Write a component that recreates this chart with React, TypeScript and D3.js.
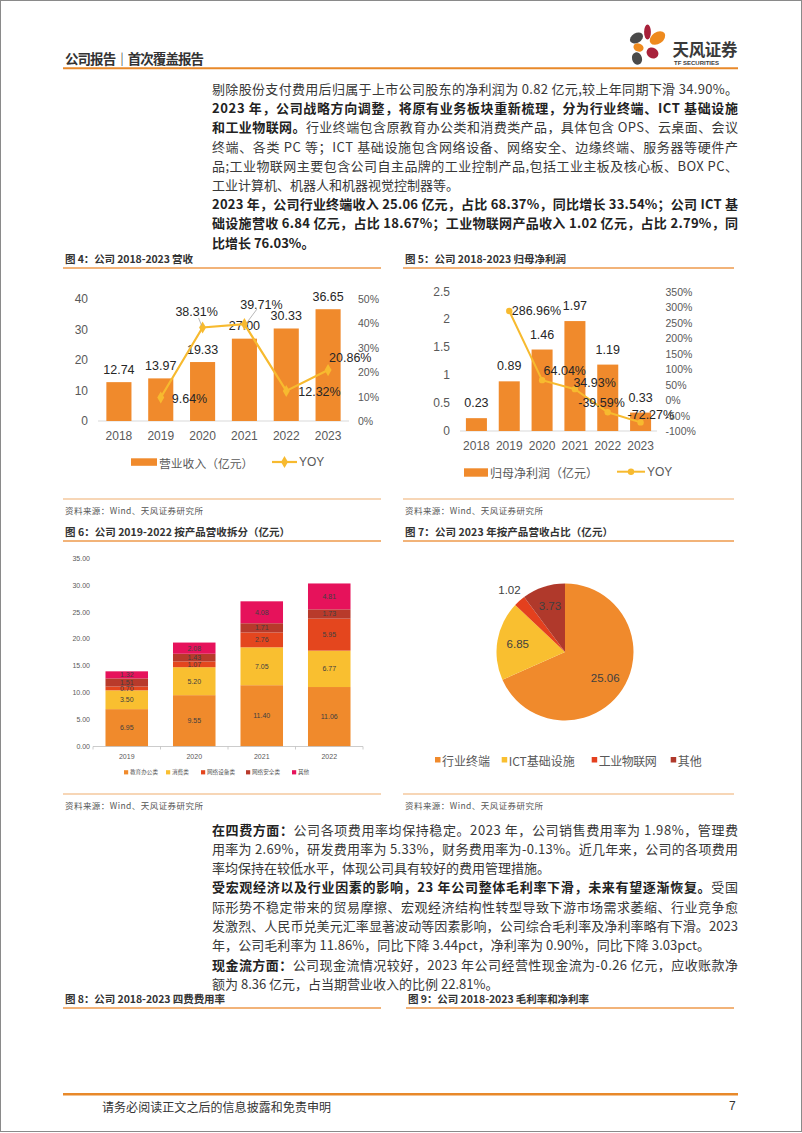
import React, { useEffect } from 'react';
import * as d3 from 'd3';

// ---- chart data ----
const revYears = ['2018', '2019', '2020', '2021', '2022', '2023'];
const revenue = [12.74, 13.97, 19.33, 27.0, 30.33, 36.65];
const revYoy: (number | null)[] = [null, 9.64, 38.31, 39.71, 12.32, 20.86];
const revLeftTicks = [0, 10, 20, 30, 40];
const revRightTicks = [0, 10, 20, 30, 40, 50];

const profitYears = ['2018', '2019', '2020', '2021', '2022', '2023'];
const profit = [0.23, 0.89, 1.46, 1.97, 1.19, 0.33];
const profitYoy: (number | null)[] = [null, 286.96, 64.04, 34.93, -39.59, -72.27];
const profitLeftTicks = [0, 0.5, 1, 1.5, 2, 2.5];
const profitRightTicks = [-100, -50, 0, 50, 100, 150, 200, 250, 300, 350];

const productYears = ['2019', '2020', '2021', '2022'];
const productNames = ['教育办公类', '消费类', '网络设备类', '网络安全类', '其他'];
const eduOffice = [6.95, 9.55, 11.4, 11.06];
const consumer = [3.5, 5.2, 7.05, 6.77];
const netDevice = [0.7, 1.07, 2.76, 5.95];
const netSecurity = [1.51, 1.43, 1.71, 1.73];
const otherProducts = [1.32, 2.08, 4.08, 4.81];
const productTicks = [0, 5, 10, 15, 20, 25, 30, 35];

const pieNames = ['行业终端', 'ICT基础设施', '工业物联网', '其他'];
const pieValues = [25.06, 6.85, 1.02, 3.73];

// ---- styles ----
const ORANGE = '#F08A2C';
const GOLD = '#F7BA2F';
const productColors = ['#F08A2C', '#F9BF30', '#E4461E', '#B83A2B', '#E6125B'];
const pieColors = ['#F08A2C', '#F9BF30', '#E4401E', '#B0392B'];
const RULE = '#EE9A4D';
const CJK = '"Noto Sans CJK SC", "Noto Sans", sans-serif';
const NUM = '"Liberation Sans", Arial, "Noto Sans CJK SC", sans-serif';

type Part = { t: string; b?: boolean };

// body text lines
const topLines: { parts: Part[]; full?: boolean }[] = [
  { full: true, parts: [{ t: '剔除股份支付费用后归属于上市公司股东的净利润为 0.82 亿元,较上年同期下滑 34.90%。' }] },
  { full: true, parts: [{ t: '2023 年，公司战略方向调整，将原有业务板块重新梳理，分为行业终端、ICT 基础设施', b: true }] },
  { full: true, parts: [{ t: '和工业物联网。', b: true }, { t: '行业终端包含原教育办公类和消费类产品，具体包含 OPS、云桌面、会议' }] },
  { full: true, parts: [{ t: '终端、各类 PC 等；ICT 基础设施包含网络设备、网络安全、边缘终端、服务器等硬件产' }] },
  { full: true, parts: [{ t: '品;工业物联网主要包含公司自主品牌的工业控制产品,包括工业主板及核心板、BOX PC、' }] },
  { parts: [{ t: '工业计算机、机器人和机器视觉控制器等。' }] },
  { full: true, parts: [{ t: '2023 年，公司行业终端收入 25.06 亿元，占比 68.37%，同比增长 33.54%；公司 ICT 基', b: true }] },
  { full: true, parts: [{ t: '础设施营收 6.84 亿元，占比 18.67%；工业物联网产品收入 1.02 亿元，占比 2.79%，同', b: true }] },
  { parts: [{ t: '比增长 76.03%。', b: true }] },
];

const lowerLines: { parts: Part[]; full?: boolean; len?: number }[] = [
  { full: true, parts: [{ t: '在四费方面：', b: true }, { t: '公司各项费用率均保持稳定。2023 年，公司销售费用率为 1.98%，管理费' }] },
  { full: true, parts: [{ t: '用率为 2.69%，研发费用率为 5.33%，财务费用率为-0.13%。近几年来，公司的各项费用' }] },
  { parts: [{ t: '率均保持在较低水平，体现公司具有较好的费用管理措施。' }] },
  { full: true, parts: [{ t: '受宏观经济以及行业因素的影响，23 年公司整体毛利率下滑，未来有望逐渐恢复。', b: true }, { t: '受国' }] },
  { full: true, parts: [{ t: '际形势不稳定带来的贸易摩擦、宏观经济结构性转型导致下游市场需求萎缩、行业竞争愈' }] },
  { full: true, parts: [{ t: '发激烈、人民币兑美元汇率显著波动等因素影响，公司综合毛利率及净利率略有下滑。2023' }] },
  { len: 498, parts: [{ t: '年，公司毛利率为 11.86%，同比下降 3.44pct，净利率为 0.90%，同比下降 3.03pct。' }] },
  { full: true, parts: [{ t: '现金流方面：', b: true }, { t: '公司现金流情况较好，2023 年公司经营性现金流为-0.26 亿元，应收账款净' }] },
  { parts: [{ t: '额为 8.36 亿元，占当期营业收入的比例 22.81%。' }] },
];

function BodyLine({ y, parts, len }: { y: number; parts: Part[]; len?: number }) {
  return (
    <text
      x={212}
      y={y}
      dominantBaseline="central"
      fontSize={13}
      fontFamily={CJK}
      fill="#333"
      textLength={len}
      lengthAdjust={len ? 'spacing' : undefined}
    >
      {parts.map((p, i) => (
        <tspan key={i} fontWeight={p.b ? 700 : 400} fill={p.b ? '#222' : '#383838'}>{p.t}</tspan>
      ))}
    </text>
  );
}

function FigTitle({ x, y, text, len, x2 }: { x: number; y: number; text: string; len: number; x2: number }) {
  return (
    <g>
      <text x={x} y={y} dominantBaseline="central" fontSize={10.5} fontWeight={700} fontFamily={CJK} fill="#333" textLength={len} lengthAdjust="spacing">
        {text}
      </text>
      <line x1={x - 2} x2={x2} y1={y + 10} y2={y + 10} stroke={RULE} strokeWidth={1.3} />
    </g>
  );
}

function Source({ x, y, x2 }: { x: number; y: number; x2: number }) {
  return (
    <g>
      <line x1={x - 2} x2={x2} y1={y - 11} y2={y - 11} stroke={RULE} strokeWidth={1.2} opacity={0.8} />
      <text x={x} y={y} dominantBaseline="central" fontSize={8.5} fontFamily={CJK} fill="#555" textLength={138} lengthAdjust="spacing">
        资料来源：Wind、天风证券研究所
      </text>
    </g>
  );
}

// 图4
function RevenueChart() {
  const x = d3.scaleBand<string>().domain(revYears).range([98, 349]);
  const y = d3.scaleLinear().domain([0, 40]).range([421, 299]);
  const yR = d3.scaleLinear().domain([0, 50]).range([421, 299]);
  const cx = (d: string) => (x(d) ?? 0) + x.bandwidth() / 2;
  const bw = x.bandwidth() * 0.6;
  const pts = revYears
    .map((d, i) => ({ d, v: revYoy[i] }))
    .filter((p): p is { d: string; v: number } => p.v != null);
  const line = d3.line<{ d: string; v: number }>().x(p => cx(p.d)).y(p => yR(p.v));
  const diamond = d3.symbol().type(d3.symbolDiamond).size(42)();
  const offs: Record<string, [number, number, string]> = {
    '2019': [11, 1.5, 'start'],
    '2020': [-6, -15.5, 'middle'],
    '2021': [17, -19, 'middle'],
    '2022': [12, 1, 'start'],
    '2023': [1, -12, 'start'],
  };
  return (
    <g fontFamily={NUM}>
      {revLeftTicks.map(t => (
        <text key={t} x={88} y={y(t)} textAnchor="end" dominantBaseline="central" fontSize={12} fill="#595959">{t}</text>
      ))}
      {revRightTicks.map(t => (
        <text key={t} x={358} y={yR(t)} dominantBaseline="central" fontSize={10.5} fill="#595959">{t}%</text>
      ))}
      <line x1={98} x2={349} y1={y(0)} y2={y(0)} stroke="#D9D9D9" />
      {revYears.map((d, i) => (
        <g key={d}>
          <rect x={cx(d) - bw / 2} y={y(revenue[i])} width={bw} height={y(0) - y(revenue[i])} fill={ORANGE} />
          <text x={cx(d)} y={436} textAnchor="middle" dominantBaseline="central" fontSize={12} fill="#595959">{d}</text>
        </g>
      ))}
      {revYears.map((d, i) => (
        <text key={d} x={cx(d)} y={y(revenue[i]) - 12.5} textAnchor="middle" dominantBaseline="central" fontSize={12.5} fill="#262626">
          {revenue[i].toFixed(2)}
        </text>
      ))}
      <path d={line(pts) ?? ''} fill="none" stroke={GOLD} strokeWidth={2.2} />
      {pts.map(p => (
        <path key={p.d} d={diamond} transform={`translate(${cx(p.d)},${yR(p.v)})`} fill={GOLD} />
      ))}
      {/* leader lines */}
      <line x1={cx('2020') - 4} y1={yR(38.31) - 9.5} x2={cx('2020') - 1} y2={yR(38.31) - 2} stroke="#A6A6A6" strokeWidth={0.8} />
      <line x1={cx('2021') + 12.5} y1={yR(39.71) - 15} x2={cx('2021') + 2.5} y2={yR(39.71) - 1.5} stroke="#A6A6A6" strokeWidth={0.8} />
      {pts.map(p => {
        const [dx, dy, a] = offs[p.d];
        return (
          <text key={p.d} x={cx(p.d) + dx} y={yR(p.v) + dy} textAnchor={a} dominantBaseline="central" fontSize={12.5} fill="#262626">
            {p.v.toFixed(2)}%
          </text>
        );
      })}
      {/* legend */}
      <rect x={131} y={458.3} width={26} height={7.5} fill={ORANGE} />
      <text x={159} y={462} dominantBaseline="central" fontSize={11.8} fontFamily={CJK} fill="#595959">营业收入（亿元）</text>
      <line x1={272} x2={297} y1={462} y2={462} stroke={GOLD} strokeWidth={2.2} />
      <path d={diamond} transform="translate(284.5,462)" fill={GOLD} />
      <text x={299} y={462} dominantBaseline="central" fontSize={12} fill="#595959">YOY</text>
    </g>
  );
}

// 图5
function ProfitChart() {
  const x = d3.scaleBand<string>().domain(profitYears).range([460, 657]);
  const y = d3.scaleLinear().domain([0, 2.5]).range([431, 291.5]);
  const yR = d3.scaleLinear().domain([-100, 350]).range([431, 291.5]);
  const cx = (d: string) => (x(d) ?? 0) + x.bandwidth() / 2;
  const bw = x.bandwidth() * 0.64;
  const pts = profitYears
    .map((d, i) => ({ d, v: profitYoy[i] }))
    .filter((p): p is { d: string; v: number } => p.v != null);
  const line = d3.line<{ d: string; v: number }>().x(p => cx(p.d)).y(p => yR(p.v));
  const offs: Record<string, [number, number]> = {
    '2019': [2.5, 0],
    '2020': [1.5, -9],
    '2021': [-1.5, -6],
    '2022': [-29.5, -9],
    '2023': [-13, -7.5],
  };
  return (
    <g fontFamily={NUM}>
      {profitLeftTicks.map(t => (
        <text key={t} x={450} y={y(t)} textAnchor="end" dominantBaseline="central" fontSize={12} fill="#595959">{t}</text>
      ))}
      {profitRightTicks.map(t => (
        <text key={t} x={665.5} y={yR(t)} dominantBaseline="central" fontSize={10.5} fill="#595959">{t}%</text>
      ))}
      <line x1={460} x2={657} y1={y(0)} y2={y(0)} stroke="#D9D9D9" />
      {profitYears.map((d, i) => (
        <g key={d}>
          <rect x={cx(d) - bw / 2} y={y(profit[i])} width={bw} height={y(0) - y(profit[i])} fill={ORANGE} />
          <text x={cx(d)} y={446} textAnchor="middle" dominantBaseline="central" fontSize={12} fill="#595959">{d}</text>
        </g>
      ))}
      {profitYears.map((d, i) => (
        <text key={d} x={cx(d)} y={y(profit[i]) - 15} textAnchor="middle" dominantBaseline="central" fontSize={12.5} fill="#262626">
          {profit[i].toFixed(2)}
        </text>
      ))}
      <path d={line(pts) ?? ''} fill="none" stroke={GOLD} strokeWidth={2} />
      {pts.map(p => (
        <circle key={p.d} cx={cx(p.d)} cy={yR(p.v)} r={3.2} fill={GOLD} />
      ))}
      {pts.map(p => {
        const [dx, dy] = offs[p.d];
        return (
          <text key={p.d} x={cx(p.d) + dx} y={yR(p.v) + dy} dominantBaseline="central" fontSize={12.5} fill="#262626">
            {p.v.toFixed(2)}%
          </text>
        );
      })}
      <rect x={464} y={468.3} width={24} height={8.4} fill={ORANGE} />
      <text x={490} y={472} dominantBaseline="central" fontSize={12} fontFamily={CJK} fill="#595959">归母净利润（亿元）</text>
      <line x1={617} x2={645} y1={471.7} y2={471.7} stroke={GOLD} strokeWidth={2} />
      <circle cx={631} cy={471.7} r={3.2} fill={GOLD} />
      <text x={647} y={472} dominantBaseline="central" fontSize={12} fill="#595959">YOY</text>
    </g>
  );
}

// 图6
function ProductChart() {
  const rows = productYears.map((year, i) => ({
    year,
    s0: eduOffice[i],
    s1: consumer[i],
    s2: netDevice[i],
    s3: netSecurity[i],
    s4: otherProducts[i],
  }));
  const keys = ['s0', 's1', 's2', 's3', 's4'];
  const series = d3.stack<any>().keys(keys)(rows);
  const x = d3.scaleBand<string>().domain(productYears).range([93, 363]);
  const y = d3.scaleLinear().domain([0, 35]).range([746.5, 558.3]);
  const cx = (d: string) => (x(d) ?? 0) + x.bandwidth() / 2;
  const bw = x.bandwidth() * 0.63;
  const legendX = [124, 166, 201, 246, 292];
  const boundaries = [93, ...productYears.map(d => (x(d) ?? 0) + x.bandwidth())];
  return (
    <g fontFamily={NUM}>
      {productTicks.map(t => (
        <text key={t} x={90} y={y(t)} textAnchor="end" dominantBaseline="central" fontSize={7} fill="#595959">{t.toFixed(2)}</text>
      ))}
      {series.map((s, k) =>
        s.map((seg, i) => (
          <rect
            key={`${k}-${i}`}
            x={cx(productYears[i]) - bw / 2}
            y={y(seg[1])}
            width={bw}
            height={y(seg[0]) - y(seg[1])}
            fill={productColors[k]}
          />
        ))
      )}
      {series.map((s, k) =>
        s.map((seg, i) => (
          <text
            key={`${k}-${i}`}
            x={cx(productYears[i])}
            y={(y(seg[0]) + y(seg[1])) / 2}
            textAnchor="middle"
            dominantBaseline="central"
            fontSize={7}
            fill="#404040"
          >
            {(seg[1] - seg[0]).toFixed(2)}
          </text>
        ))
      )}
      <line x1={93} x2={363} y1={y(0)} y2={y(0)} stroke="#BFBFBF" strokeWidth={0.8} />
      {boundaries.map(b => (
        <line key={b} x1={b} x2={b} y1={y(0)} y2={y(0) + 3} stroke="#BFBFBF" strokeWidth={0.8} />
      ))}
      {productYears.map(d => (
        <text key={d} x={cx(d)} y={756.5} textAnchor="middle" dominantBaseline="central" fontSize={7} fill="#595959">{d}</text>
      ))}
      {productNames.map((n, k) => (
        <g key={n}>
          <rect x={legendX[k]} y={770.2} width={4.2} height={4.2} fill={productColors[k]} />
          <text x={legendX[k] + 6} y={772.4} dominantBaseline="central" fontSize={5.6} fontFamily={CJK} fill="#595959">{n}</text>
        </g>
      ))}
    </g>
  );
}

// 图7
function ProductPie() {
  const cx = 565;
  const cy = 652;
  const r = 68.5;
  const arcs = d3.pie<number>().sort(null).value(v => v)(pieValues);
  const arc = d3.arc<d3.PieArcDatum<number>>().innerRadius(0).outerRadius(r);
  const labelArc = d3.arc<d3.PieArcDatum<number>>().innerRadius(r * 0.7).outerRadius(r * 0.7);
  const outerArc = d3.arc<d3.PieArcDatum<number>>().innerRadius(r * 1.22).outerRadius(r * 1.22);
  const legendX = [435, 501.7, 591.7, 670.7];
  const legendLen = [48, 66, 58, 24];
  return (
    <g fontFamily={NUM}>
      <g transform={`translate(${cx},${cy})`}>
        {arcs.map((a, i) => (
          <path key={i} d={arc(a) ?? ''} fill={pieColors[i]} />
        ))}
        {arcs.map((a, i) => {
          const small = a.endAngle - a.startAngle < 0.3 && a.value < 2;
          const [lx, ly] = small ? outerArc.centroid(a) : labelArc.centroid(a);
          return (
            <text key={i} x={lx} y={ly} textAnchor="middle" dominantBaseline="central" fontSize={11.5} fill="#404040">
              {a.value.toFixed(2)}
            </text>
          );
        })}
      </g>
      {pieNames.map((n, i) => (
        <g key={n}>
          <rect x={legendX[i]} y={757} width={5.5} height={5.5} fill={pieColors[i]} />
          <text x={legendX[i] + 7} y={760} dominantBaseline="central" fontSize={12} fontFamily={CJK} fill="#595959" textLength={legendLen[i]} lengthAdjust="spacing">{n}</text>
        </g>
      ))}
    </g>
  );
}

function Logo() {
  return (
    <g>
      <ellipse cx={636.5} cy={38} rx={7} ry={4.8} transform="rotate(-30 636.5 38)" fill="#4A4A4A" />
      <ellipse cx={647.5} cy={32} rx={3.4} ry={7.5} fill="#A8213A" />
      <ellipse cx={657.5} cy={38} rx={8.5} ry={5.8} transform="rotate(-35 657.5 38)" fill="#EE8A1E" />
      <ellipse cx={638.5} cy={47.5} rx={5.2} ry={4} transform="rotate(20 638.5 47.5)" fill="#EE8A1E" />
      <ellipse cx={652.5} cy={53} rx={6.2} ry={5.2} transform="rotate(30 652.5 53)" fill="#A8213A" />
      <ellipse cx={637} cy={58.5} rx={5} ry={6.3} transform="rotate(-15 637 58.5)" fill="#4A4A4A" />
      <text x={672.5} y={49} dominantBaseline="central" fontSize={16.5} fontWeight={700} fontFamily={CJK} fill="#3a3a3a" textLength={65} lengthAdjust="spacing">天风证券</text>
      <text x={674} y={62.8} dominantBaseline="central" fontSize={6} fontWeight={700} fontFamily={NUM} fill="#3a3a3a" textLength={45} lengthAdjust="spacingAndGlyphs">TF SECURITIES</text>
    </g>
  );
}

export default function App() {
  useEffect(() => {
    document.body.style.margin = '0';
  }, []);
  return (
    <svg width={802} height={1133} viewBox="0 0 802 1133" style={{ position: 'absolute', left: 0, top: 0, display: 'block', background: '#fff' }}>
      <rect x={0} y={0} width={802} height={1133} fill="#fff" />
      <rect x={0.5} y={0.5} width={801} height={1131} fill="none" stroke="#8a8a8a" strokeWidth={1} />

      {/* header */}
      <text x={65} y={58} dominantBaseline="central" fontSize={13.5} fontWeight={700} fontFamily={CJK} fill="#333" textLength={139} lengthAdjust="spacing">公司报告｜首次覆盖报告</text>
      <Logo />
      <line x1={63} x2={738} y1={68.3} y2={68.3} stroke="#E8892A" strokeWidth={2} />

      {topLines.map((l, i) => (
        <BodyLine key={i} y={88 + i * 19.2} parts={l.parts} len={l.full ? 526 : undefined} />
      ))}

      <FigTitle x={65} y={258} text="图 4：公司 2018-2023 营收" len={128} x2={381} />
      <FigTitle x={405} y={258} text="图 5：公司 2018-2023 归母净利润" len={161} x2={734} />
      <RevenueChart />
      <ProfitChart />
      <Source x={65} y={510} x2={381} />
      <Source x={405} y={510} x2={734} />

      <FigTitle x={65} y={531} text="图 6：公司 2019-2022 按产品营收拆分（亿元）" len={225} x2={381} />
      <FigTitle x={405} y={531} text="图 7：公司 2023 年按产品营收占比（亿元）" len={208} x2={734} />
      <ProductChart />
      <ProductPie />
      <Source x={65} y={805} x2={381} />
      <Source x={405} y={805} x2={734} />

      {lowerLines.map((l, i) => (
        <BodyLine key={i} y={828.5 + i * 19.3} parts={l.parts} len={l.full ? 526 : l.len} />
      ))}

      <FigTitle x={65} y={998} text="图 8：公司 2018-2023 四费费用率" len={160} x2={381} />
      <FigTitle x={408} y={998} text="图 9：公司 2018-2023 毛利率和净利率" len={181} x2={734} />

      {/* footer */}
      <line x1={63} x2={738} y1={1094.3} y2={1094.3} stroke="#E8892A" strokeWidth={2.5} />
      <text x={102} y={1106} dominantBaseline="central" fontSize={12} fontFamily={CJK} fill="#333" textLength={229} lengthAdjust="spacing">请务必阅读正文之后的信息披露和免责申明</text>
      <text x={729} y={1106} dominantBaseline="central" fontSize={12} fontFamily={NUM} fill="#333">7</text>
    </svg>
  );
}
